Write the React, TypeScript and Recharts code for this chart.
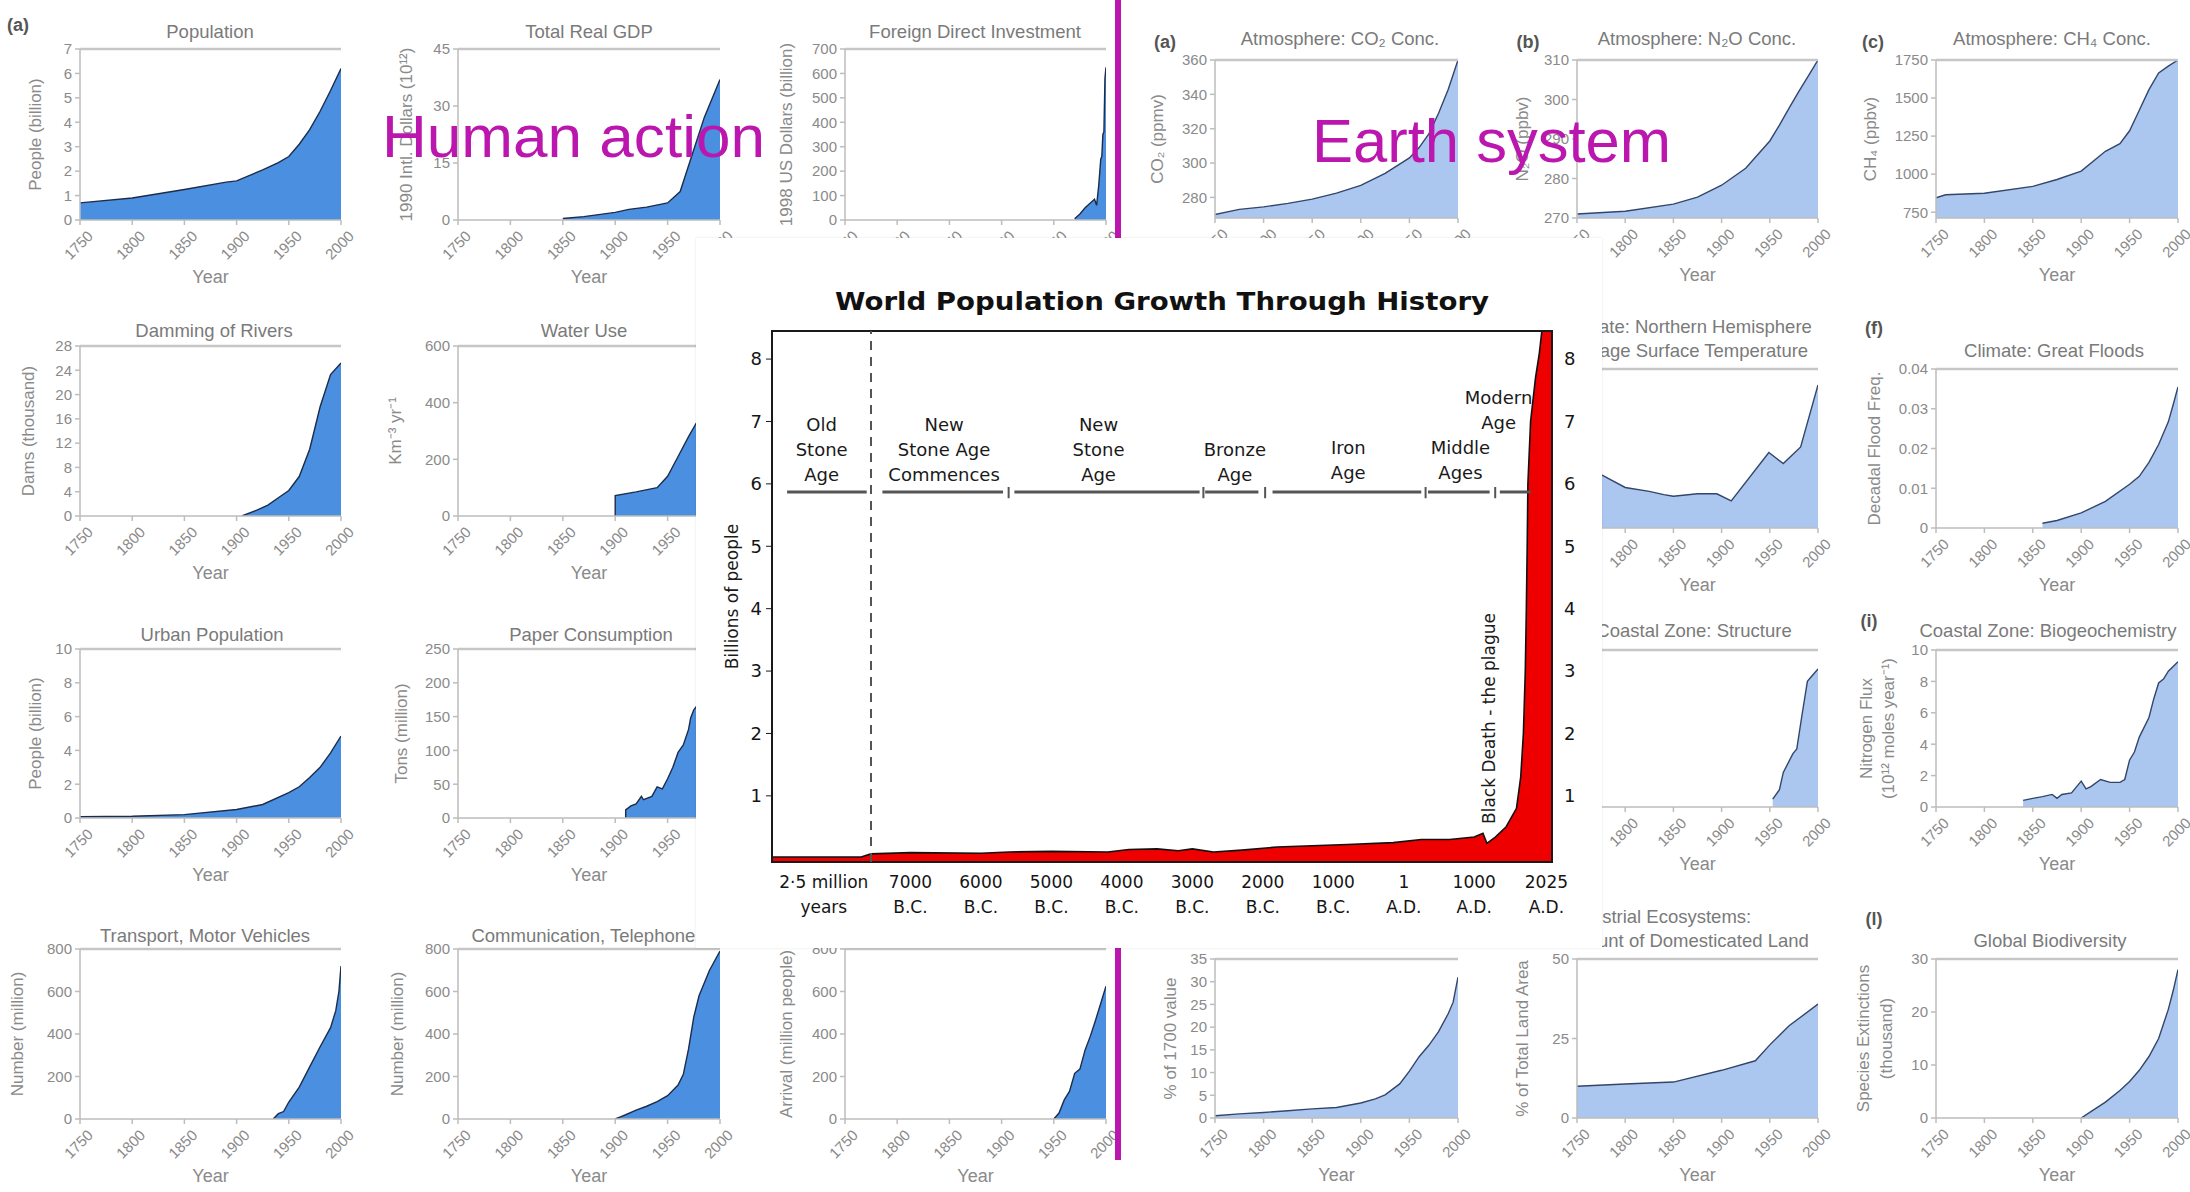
import React from 'react';
import {
  AreaChart,
  Area,
  XAxis,
  YAxis,
  ReferenceLine,
  ReferenceDot,
  ReferenceArea
} from 'recharts';

type Pair = [number, number];

// ============================================================================
// Human action panels: [year, value]
// ============================================================================

const population: Pair[] = [[1750, 0.7], [1800, 0.9], [1850, 1.25], [1890, 1.55], [1900, 1.6], [1925, 2.05], [1940, 2.35], [1950, 2.6], [1960, 3.1], [1970, 3.7], [1980, 4.45], [1990, 5.3], [2000, 6.2]];
const realGdp: Pair[] = [[1850, 0.4], [1870, 0.9], [1900, 2], [1913, 2.8], [1930, 3.4], [1950, 4.5], [1962, 7.5], [1972, 16], [1985, 27], [2000, 37]];
const foreignInvestment: Pair[] = [[1970, 5], [1975, 25], [1980, 50], [1985, 70], [1989, 85], [1991, 60], [1993, 140], [1995, 250], [1996, 260], [1997, 350], [1998, 360], [1999, 580], [2000, 625]];
const dams: Pair[] = [[1905, 0], [1920, 1], [1930, 1.8], [1940, 3], [1950, 4.2], [1960, 6.5], [1970, 11], [1980, 18], [1990, 23.3], [2000, 25.2]];
const waterUse: Pair[] = [[1900, 0], [1900, 72], [1920, 85], [1940, 100], [1950, 140], [1960, 210], [1970, 280], [1980, 345], [1990, 400], [2000, 450]];
const urbanPopulation: Pair[] = [[1750, 0.07], [1800, 0.1], [1850, 0.2], [1900, 0.5], [1925, 0.8], [1950, 1.5], [1960, 1.85], [1970, 2.4], [1980, 3.0], [1990, 3.85], [2000, 4.85]];
const paper: Pair[] = [[1910, 0], [1910, 12], [1915, 18], [1920, 21], [1925, 32], [1927, 27], [1935, 32], [1940, 46], [1945, 43], [1950, 58], [1955, 75], [1960, 97], [1965, 108], [1970, 131], [1972, 148], [1975, 160], [1980, 170], [1990, 220], [2000, 245]];
const motorVehicles: Pair[] = [[1935, 0], [1940, 25], [1945, 35], [1950, 80], [1960, 150], [1970, 245], [1980, 340], [1990, 430], [1995, 510], [1998, 600], [2000, 720]];
const telephones: Pair[] = [[1900, 0], [1905, 10], [1910, 20], [1920, 42], [1930, 60], [1940, 82], [1950, 110], [1960, 160], [1965, 210], [1970, 330], [1975, 480], [1980, 580], [1990, 700], [2000, 790]];
const tourism: Pair[] = [[1950, 0], [1955, 28], [1960, 90], [1965, 130], [1970, 215], [1975, 235], [1980, 325], [1985, 390], [1990, 465], [1995, 545], [2000, 625]];

// ============================================================================
// Earth system panels: [year, value]
// ============================================================================

const co2: Pair[] = [[1750, 270], [1775, 273], [1800, 274.5], [1825, 276.5], [1850, 279], [1875, 282.5], [1900, 287], [1925, 294], [1950, 303], [1960, 309], [1970, 317], [1980, 329], [1990, 343], [2000, 360]];
const n2o: Pair[] = [[1750, 271], [1800, 271.7], [1850, 273.5], [1875, 275.3], [1900, 278.3], [1925, 282.6], [1950, 289.5], [1960, 293.5], [1970, 297.8], [1980, 302], [1990, 306], [2000, 310]];
const ch4: Pair[] = [[1750, 845], [1760, 865], [1800, 875], [1850, 920], [1875, 965], [1900, 1020], [1925, 1150], [1940, 1200], [1950, 1285], [1960, 1420], [1970, 1555], [1980, 1665], [1990, 1710], [2000, 1750]];
const nhTemperature: Pair[] = [[1750, -0.2], [1777, -0.27], [1800, -0.345], [1825, -0.37], [1840, -0.39], [1850, -0.4], [1875, -0.385], [1895, -0.385], [1910, -0.43], [1949, -0.125], [1964, -0.195], [1982, -0.09], [2000, 0.3]];
const floods: Pair[] = [[1860, 0.0012], [1875, 0.0019], [1900, 0.0038], [1925, 0.0067], [1950, 0.011], [1960, 0.013], [1970, 0.0165], [1980, 0.021], [1990, 0.0267], [1995, 0.031], [2000, 0.0355]];
const coastalStructure: Pair[] = [[1953, 5], [1960, 11], [1964, 22], [1974, 34], [1978, 37], [1983, 57], [1989, 80], [1993, 83], [2000, 88]];
const nitrogenFlux: Pair[] = [[1840, 0.42], [1850, 0.55], [1860, 0.66], [1870, 0.8], [1875, 0.55], [1880, 0.8], [1890, 0.9], [1900, 1.65], [1905, 1.15], [1910, 1.3], [1920, 1.75], [1930, 1.57], [1940, 1.57], [1945, 1.75], [1950, 3.0], [1955, 3.5], [1960, 4.45], [1970, 5.7], [1975, 6.9], [1980, 7.9], [1985, 8.15], [1990, 8.65], [2000, 9.25]];
const percentOf1700: Pair[] = [[1750, 0.5], [1775, 0.9], [1800, 1.2], [1825, 1.6], [1850, 2.0], [1875, 2.3], [1900, 3.3], [1915, 4.2], [1925, 5.1], [1940, 7.5], [1950, 10.3], [1960, 13.5], [1970, 16], [1980, 19], [1990, 23], [1995, 25.5], [2000, 31]];
const domesticatedLand: Pair[] = [[1750, 10], [1800, 10.7], [1850, 11.3], [1900, 15], [1935, 18], [1950, 23], [1970, 29], [2000, 35.8]];
const extinctions: Pair[] = [[1900, 0], [1910, 1.2], [1925, 3], [1940, 5.2], [1950, 6.9], [1960, 9], [1970, 11.6], [1980, 15], [1990, 20.5], [1995, 24], [2000, 28]];

// Tick labels
const yearTicks = [1750, 1800, 1850, 1900, 1950, 2000];
const populationTicks = [0, 1, 2, 3, 4, 5, 6, 7];
const gdpTicks = [0, 15, 30, 45];
const investmentTicks = [0, 100, 200, 300, 400, 500, 600, 700];
const damTicks = [0, 4, 8, 12, 16, 20, 24, 28];
const waterTicks = [0, 200, 400, 600];
const urbanTicks = [0, 2, 4, 6, 8, 10];
const paperTicks = [0, 50, 100, 150, 200, 250];
const millionTicks = [0, 200, 400, 600, 800];
const co2Ticks = [280, 300, 320, 340, 360];
const n2oTicks = [270, 280, 290, 300, 310];
const ch4Ticks = [750, 1000, 1250, 1500, 1750];
const temperatureTicks = [-0.6, -0.4, -0.2, 0, 0.2, 0.4];
const floodTicks = [0, 0.01, 0.02, 0.03, 0.04];
const structureTicks = [0, 25, 50, 75, 100];
const fluxTicks = [0, 2, 4, 6, 8, 10];
const percentTicks = [0, 5, 10, 15, 20, 25, 30, 35];
const landTicks = [0, 25, 50];
const extinctionTicks = [0, 10, 20, 30];

// ============================================================================
// World population through history: [position on time line, billions]
// ============================================================================

const history: Pair[] = [
  [-8965, 0.02], [-7700, 0.02], [-7560, 0.07], [-7000, 0.09], [-6000, 0.08], [-5600, 0.1],
  [-5000, 0.11], [-4200, 0.1], [-3900, 0.14], [-3500, 0.15], [-3200, 0.12], [-3000, 0.15],
  [-2700, 0.1], [-2300, 0.13], [-1800, 0.18], [-1300, 0.2], [-800, 0.22], [-150, 0.25],
  [250, 0.3], [650, 0.3], [1000, 0.34], [1124, 0.4], [1180, 0.24], [1300, 0.34], [1450, 0.5],
  [1600, 0.8], [1660, 1.3], [1698, 2.0], [1725, 3.0], [1740, 4.0], [1752, 5.0], [1762, 6.0],
  [1800, 7.0], [1870, 7.7], [1925, 8.1], [1960, 8.45], [2104, 8.45]
];
const historyTicks = [-8230, -7000, -6000, -5000, -4000, -3000, -2000, -1000, 1, 1000, 2025];
const historyTickLabels = [
  ['2·5 million', 'years'], ['7000', 'B.C.'], ['6000', 'B.C.'], ['5000', 'B.C.'], ['4000', 'B.C.'],
  ['3000', 'B.C.'], ['2000', 'B.C.'], ['1000', 'B.C.'], ['1', 'A.D.'], ['1000', 'A.D.'], ['2025', 'A.D.']
];
const billionTicks = [1, 2, 3, 4, 5, 6, 7, 8];
const eraNames = [
  ['Old', 'Stone', 'Age'], ['New', 'Stone Age', 'Commences'], ['New', 'Stone', 'Age'],
  ['Bronze', 'Age'], ['Iron', 'Age'], ['Middle', 'Ages'], ['Modern', 'Age']
];
const eraCentres = [-8260, -6523, -4331, -2397, -787, 805, 1346];
const eraLabelLevels = [6.95, 6.95, 6.95, 6.55, 6.58, 6.58, 7.38];
const eraStarts = [-8751, -7398, -5525, -2818, -1862, 344, 1364];
const eraEnds = [-7621, -5686, -2897, -2062, 249, 1219, 1801];
const eraJoins = [-5607, -2843, -1967, 310, 1298];
const eraBarLevel = 5.87;
const stoneAgeSplit = -7560;
const plagueText = 'Black Death - the plague';
const plagueAt: Pair = [1203, 2.24];

// ============================================================================
// Styling
// ============================================================================

const SANS = '"Liberation Sans", Arial, sans-serif';
const DEJAVU = '"DejaVu Sans", Verdana, sans-serif';
const GREY_TEXT = '#8a8a8a';
const AXIS = '#bdbdbd';
const FRAME = '#c6c6c6';
const HUMAN_FILL = '#4a8fe0';
const HUMAN_LINE = '#1d2c4a';
const EARTH_FILL = '#abc7f0';
const EARTH_LINE = '#34456a';
const MAGENTA = '#bb17ae';

const PAD_L = 100;
const PAD_T = 12;
const PAD_R = 40;
const PAD_B = 82;

interface PanelSpec {
  data: Pair[];
  box: [number, number, number, number]; // plot left, top, right, bottom
  domain: [number, number];
  ticks: number[];
  yLabel?: string[];
  yDx?: number[];
  earth?: boolean;
}

const panels: PanelSpec[] = [
  // Human action
  { data: population, box: [80, 49, 341, 220], domain: [0, 7], ticks: populationTicks, yLabel: ['People (billion)'], yDx: [45] },
  { data: realGdp, box: [458, 49, 720, 220], domain: [0, 45], ticks: gdpTicks, yLabel: ['1990 Intl. Dollars (10¹²)'], yDx: [52] },
  { data: foreignInvestment, box: [845, 49, 1106, 220], domain: [0, 700], ticks: investmentTicks, yLabel: ['1998 US Dollars (billion)'], yDx: [59] },
  { data: dams, box: [80, 346, 341, 516], domain: [0, 28], ticks: damTicks, yLabel: ['Dams (thousand)'], yDx: [52] },
  { data: waterUse, box: [458, 346, 720, 516], domain: [0, 600], ticks: waterTicks, yLabel: ['Km⁻³ yr⁻¹'], yDx: [63] },
  { data: urbanPopulation, box: [80, 649, 341, 818], domain: [0, 10], ticks: urbanTicks, yLabel: ['People (billion)'], yDx: [45] },
  { data: paper, box: [458, 649, 720, 818], domain: [0, 250], ticks: paperTicks, yLabel: ['Tons (million)'], yDx: [57] },
  { data: motorVehicles, box: [80, 949, 341, 1119], domain: [0, 800], ticks: millionTicks, yLabel: ['Number (million)'], yDx: [63] },
  { data: telephones, box: [458, 949, 720, 1119], domain: [0, 800], ticks: millionTicks, yLabel: ['Number (million)'], yDx: [61] },
  { data: tourism, box: [845, 949, 1106, 1119], domain: [0, 800], ticks: millionTicks, yLabel: ['Arrival (million people)'], yDx: [59] },
  // Earth system
  { data: co2, box: [1215, 60, 1458, 218], domain: [268, 360], ticks: co2Ticks, yLabel: ['CO₂ (ppmv)'], yDx: [58], earth: true },
  { data: n2o, box: [1577, 60, 1818, 218], domain: [270, 310], ticks: n2oTicks, yLabel: ['N₂O (ppbv)'], yDx: [55], earth: true },
  { data: ch4, box: [1936, 60, 2178, 218], domain: [712, 1750], ticks: ch4Ticks, yLabel: ['CH₄ (ppbv)'], yDx: [66], earth: true },
  { data: nhTemperature, box: [1577, 369, 1818, 528], domain: [-0.6, 0.4], ticks: temperatureTicks, earth: true },
  { data: floods, box: [1936, 369, 2178, 528], domain: [0, 0.04], ticks: floodTicks, yLabel: ['Decadal Flood Freq.'], yDx: [62], earth: true },
  { data: coastalStructure, box: [1577, 650, 1818, 807], domain: [0, 100], ticks: structureTicks, earth: true },
  { data: nitrogenFlux, box: [1936, 650, 2178, 807], domain: [0, 10], ticks: fluxTicks, yLabel: ['Nitrogen Flux', '(10¹² moles year⁻¹)'], yDx: [70, 48], earth: true },
  { data: percentOf1700, box: [1215, 959, 1458, 1118], domain: [0, 35], ticks: percentTicks, yLabel: ['% of 1700 value'], yDx: [45], earth: true },
  { data: domesticatedLand, box: [1577, 959, 1818, 1118], domain: [0, 50], ticks: landTicks, yLabel: ['% of Total Land Area'], yDx: [55], earth: true },
  { data: extinctions, box: [1936, 959, 2178, 1118], domain: [0, 30], ticks: extinctionTicks, yLabel: ['Species Extinctions', '(thousand)'], yDx: [73, 50], earth: true }
];

const panelTitles: { lines: string[]; x: number; y: number; anchor?: 'start' | 'middle' }[] = [
  { lines: ['Population'], x: 210, y: 38 },
  { lines: ['Total Real GDP'], x: 589, y: 38 },
  { lines: ['Foreign Direct Investment'], x: 975, y: 38 },
  { lines: ['Damming of Rivers'], x: 214, y: 337 },
  { lines: ['Water Use'], x: 584, y: 337 },
  { lines: ['Urban Population'], x: 212, y: 641 },
  { lines: ['Paper Consumption'], x: 591, y: 641 },
  { lines: ['Transport, Motor Vehicles'], x: 205, y: 942 },
  { lines: ['Communication, Telephones'], x: 588, y: 942 },
  { lines: ['Atmosphere: CO₂ Conc.'], x: 1340, y: 45 },
  { lines: ['Atmosphere: N₂O Conc.'], x: 1697, y: 45 },
  { lines: ['Atmosphere: CH₄ Conc.'], x: 2052, y: 45 },
  { lines: ['Climate: Northern Hemisphere', 'Average Surface Temperature'], x: 1562, y: 333, anchor: 'start' },
  { lines: ['Climate: Great Floods'], x: 2054, y: 357 },
  { lines: ['Coastal Zone: Structure'], x: 1694, y: 637 },
  { lines: ['Coastal Zone: Biogeochemistry'], x: 2048, y: 637 },
  { lines: ['Terrestrial Ecosystems:', 'Amount of Domesticated Land'], x: 1560, y: 923, anchor: 'start' },
  { lines: ['Global Biodiversity'], x: 2050, y: 947 }
];

const panelLetters: { text: string; x: number; y: number }[] = [
  { text: '(a)', x: 18, y: 31 },
  { text: '(a)', x: 1165, y: 48 },
  { text: '(b)', x: 1528, y: 48 },
  { text: '(c)', x: 1873, y: 48 },
  { text: '(f)', x: 1874, y: 334 },
  { text: '(i)', x: 1869, y: 627 },
  { text: '(l)', x: 1874, y: 925 }
];

// ============================================================================
// Small panel pieces
// ============================================================================

const YearTick = (props: any) => {
  const { x, y, payload } = props;
  return (
    <text
      transform={`translate(${x + 14},${y + 10}) rotate(-45)`}
      textAnchor="end"
      fill={GREY_TEXT}
      fontSize={15}
      fontFamily={SANS}
    >
      {payload.value}
    </text>
  );
};

const YearLabel = (props: any) => {
  const vb = props.viewBox;
  return (
    <text x={vb.x + vb.width / 2} y={vb.y + 63} textAnchor="middle" fill={GREY_TEXT} fontSize={18} fontFamily={SANS}>
      Year
    </text>
  );
};

const axisTitle = (lines: string[], dxs: number[]) => (props: any) => {
  const vb = props.viewBox;
  const cy = vb.y + vb.height / 2;
  return (
    <g>
      {lines.map((s, i) => {
        const cx = vb.x + vb.width - dxs[i];
        return (
          <text
            key={i}
            x={cx}
            y={cy}
            transform={`rotate(-90 ${cx} ${cy})`}
            textAnchor="middle"
            dominantBaseline="central"
            fill={GREY_TEXT}
            fontSize={17}
            fontFamily={SANS}
          >
            {s}
          </text>
        );
      })}
    </g>
  );
};

const SmallPanel: React.FC<{ p: PanelSpec }> = ({ p }) => {
  const [l, t, r, b] = p.box;
  const w = r - l;
  const h = b - t;
  const data = p.data.map(([x, v]) => ({ x, v }));

  return (
    <div style={{ position: 'absolute', left: l - PAD_L, top: t - PAD_T }}>
      <AreaChart
        width={PAD_L + w + PAD_R}
        height={PAD_T + h + PAD_B}
        data={data}
        margin={{ top: PAD_T, right: PAD_R, bottom: 0, left: 0 }}
      >
        <XAxis
          type="number"
          dataKey="x"
          domain={[1750, 2000]}
          ticks={yearTicks}
          interval={0}
          allowDataOverflow
          height={PAD_B}
          stroke={AXIS}
          strokeWidth={1.5}
          tickSize={5}
          tick={<YearTick />}
          label={(props: any) => <YearLabel {...props} />}
        />
        <YAxis
          type="number"
          domain={p.domain}
          ticks={p.ticks}
          interval={0}
          allowDataOverflow
          width={PAD_L}
          stroke={AXIS}
          strokeWidth={1.5}
          tickSize={5}
          tickMargin={3}
          tick={{ fill: GREY_TEXT, fontSize: 15, fontFamily: SANS }}
          label={p.yLabel ? axisTitle(p.yLabel, p.yDx || []) : undefined}
        />
        <ReferenceLine y={p.domain[1]} stroke={FRAME} strokeWidth={2.5} />
        <Area
          type="linear"
          dataKey="v"
          baseValue="dataMin"
          stroke={p.earth ? EARTH_LINE : HUMAN_LINE}
          strokeWidth={1.4}
          fill={p.earth ? EARTH_FILL : HUMAN_FILL}
          fillOpacity={1}
          dot={false}
          activeDot={false}
          isAnimationActive={false}
        />
      </AreaChart>
    </div>
  );
};

// ============================================================================
// Central chart pieces
// ============================================================================

const HistoryTick = (props: any) => {
  const { x, y, payload } = props;
  const i = historyTicks.indexOf(payload.value);
  const lines = historyTickLabels[i] || [];
  return (
    <g>
      {lines.map((s, k) => (
        <text key={k} x={x} y={y + 24 + k * 25} textAnchor="middle" fill="#151515" fontSize={17} fontFamily={DEJAVU}>
          {s}
        </text>
      ))}
    </g>
  );
};

const eraLabel = (lines: string[]) => (props: any) => {
  const vb = props.viewBox;
  const cx = vb.x + (vb.width || 0) / 2;
  const cy = vb.y + (vb.height || 0) / 2;
  return (
    <text x={cx} y={cy} textAnchor="middle" fill="#1a1a1a" fontSize={18} fontFamily={DEJAVU}>
      {lines.map((s, k) => (
        <tspan key={k} x={cx} dy={k === 0 ? 6 : 25}>
          {s}
        </tspan>
      ))}
    </text>
  );
};

const plagueLabel = (props: any) => {
  const vb = props.viewBox;
  const cx = vb.x + (vb.width || 0) / 2;
  const cy = vb.y + (vb.height || 0) / 2;
  return (
    <text
      x={cx}
      y={cy}
      transform={`rotate(-90 ${cx} ${cy})`}
      textAnchor="middle"
      dominantBaseline="central"
      fill="#1a1a1a"
      fontSize={17}
      fontFamily={DEJAVU}
    >
      {plagueText}
    </text>
  );
};

const billionsLabel = (props: any) => {
  const vb = props.viewBox;
  const cx = vb.x + vb.width - 40;
  const cy = vb.y + vb.height / 2;
  return (
    <text
      x={cx}
      y={cy}
      transform={`rotate(-90 ${cx} ${cy})`}
      textAnchor="middle"
      dominantBaseline="central"
      fill="#1a1a1a"
      fontSize={17}
      fontFamily={DEJAVU}
    >
      Billions of people
    </text>
  );
};

const HistoryChart: React.FC = () => {
  const data = history.map(([x, v]) => ({ x, v }));
  const xDomain: [number, number] = [-8965, 2104];
  const yDomain: [number, number] = [-0.06, 8.45];

  return (
    <div
      style={{
        position: 'absolute',
        left: 696,
        top: 238,
        width: 906,
        height: 710,
        background: '#fff',
        boxShadow: '0 0 2px rgba(0,0,0,0.12)'
      }}
    >
      <AreaChart width={906} height={710} data={data} margin={{ top: 93, right: 0, bottom: 0, left: 0 }}>
        <XAxis
          type="number"
          dataKey="x"
          domain={xDomain}
          ticks={historyTicks}
          interval={0}
          allowDataOverflow
          height={86}
          axisLine={false}
          tickLine={false}
          tickSize={0}
          tick={<HistoryTick />}
        />
        <YAxis
          yAxisId="l"
          type="number"
          domain={yDomain}
          ticks={billionTicks}
          interval={0}
          allowDataOverflow
          width={76}
          axisLine={false}
          stroke="#1a1a1a"
          tickSize={6}
          tickMargin={4}
          tick={{ fill: '#151515', fontSize: 18, fontFamily: DEJAVU }}
          label={billionsLabel}
        />
        <YAxis
          yAxisId="r"
          orientation="right"
          type="number"
          domain={yDomain}
          ticks={billionTicks}
          interval={0}
          allowDataOverflow
          width={50}
          axisLine={false}
          tickLine={false}
          tickSize={6}
          tickMargin={6}
          tick={{ fill: '#151515', fontSize: 18, fontFamily: DEJAVU }}
        />

        <Area
          yAxisId="l"
          type="linear"
          dataKey="v"
          baseValue="dataMin"
          stroke="#111"
          strokeWidth={1.6}
          fill="#ee0000"
          fillOpacity={1}
          dot={false}
          activeDot={false}
          isAnimationActive={false}
        />

        {/* Old / new stone age split */}
        <ReferenceLine yAxisId="l" x={stoneAgeSplit} stroke="#555" strokeWidth={2} strokeDasharray="9 7" />

        {/* Era bar */}
        {eraStarts.map((s, i) => (
          <ReferenceLine
            key={`bar-${i}`}
            yAxisId="l"
            segment={[{ x: s, y: eraBarLevel }, { x: eraEnds[i], y: eraBarLevel }]}
            stroke="#555"
            strokeWidth={3}
          />
        ))}
        {eraJoins.map((j, i) => (
          <ReferenceLine
            key={`join-${i}`}
            yAxisId="l"
            segment={[{ x: j, y: eraBarLevel - 0.1 }, { x: j, y: eraBarLevel + 0.08 }]}
            stroke="#555"
            strokeWidth={2}
          />
        ))}

        {/* Era names */}
        {eraNames.map((lines, i) => (
          <ReferenceDot
            key={`era-${i}`}
            yAxisId="l"
            x={eraCentres[i]}
            y={eraLabelLevels[i]}
            r={0}
            fill="none"
            stroke="none"
            label={eraLabel(lines)}
          />
        ))}

        <ReferenceDot yAxisId="l" x={plagueAt[0]} y={plagueAt[1]} r={0} fill="none" stroke="none" label={plagueLabel} />

        {/* Frame */}
        <ReferenceArea
          yAxisId="l"
          x1={xDomain[0]}
          x2={xDomain[1]}
          y1={yDomain[0]}
          y2={yDomain[1]}
          fill="none"
          fillOpacity={0}
          stroke="#1a1a1a"
          strokeWidth={2}
          ifOverflow="visible"
        />
      </AreaChart>

      <svg width={906} height={90} style={{ position: 'absolute', left: 0, top: 0 }}>
        <text
          x={466}
          y={72}
          textAnchor="middle"
          fontFamily={DEJAVU}
          fontWeight="bold"
          fontSize={25}
          fill="#111"
          textLength={654}
          lengthAdjust="spacingAndGlyphs"
        >
          World Population Growth Through History
        </text>
      </svg>
    </div>
  );
};

// ============================================================================
// Page
// ============================================================================

export default function App() {
  return (
    <div
      style={{
        position: 'relative',
        width: 2190,
        height: 1192,
        background: '#fff',
        overflow: 'hidden',
        fontFamily: SANS
      }}
    >
      <style>{'body { margin: 0; }'}</style>

      {panels.map((p, i) => (
        <SmallPanel key={i} p={p} />
      ))}

      {/* Panel titles and letters */}
      <svg width={2190} height={1192} style={{ position: 'absolute', left: 0, top: 0 }}>
        {panelTitles.map((t, i) => (
          <text key={i} textAnchor={t.anchor || 'middle'} fill="#7a7a7a" fontSize={18.5} fontFamily={SANS}>
            {t.lines.map((s, k) => (
              <tspan key={k} x={t.x} y={t.y + k * 24}>
                {s}
              </tspan>
            ))}
          </text>
        ))}
        {panelLetters.map((l, i) => (
          <text key={i} x={l.x} y={l.y} textAnchor="middle" fill="#555" fontSize={18} fontWeight="bold" fontFamily={SANS}>
            {l.text}
          </text>
        ))}
      </svg>

      {/* Divider between human action and earth system */}
      <div style={{ position: 'absolute', left: 1115, top: 0, width: 6, height: 1160, background: MAGENTA }} />

      <HistoryChart />

      <svg width={2190} height={1192} style={{ position: 'absolute', left: 0, top: 0, pointerEvents: 'none' }}>
        <text x={382} y={157} fill={MAGENTA} fontSize={60} fontFamily={SANS} textLength={383} lengthAdjust="spacingAndGlyphs">
          Human action
        </text>
        <text x={1312} y={162} fill={MAGENTA} fontSize={61} fontFamily={SANS} textLength={359} lengthAdjust="spacingAndGlyphs">
          Earth system
        </text>
      </svg>
    </div>
  );
}
